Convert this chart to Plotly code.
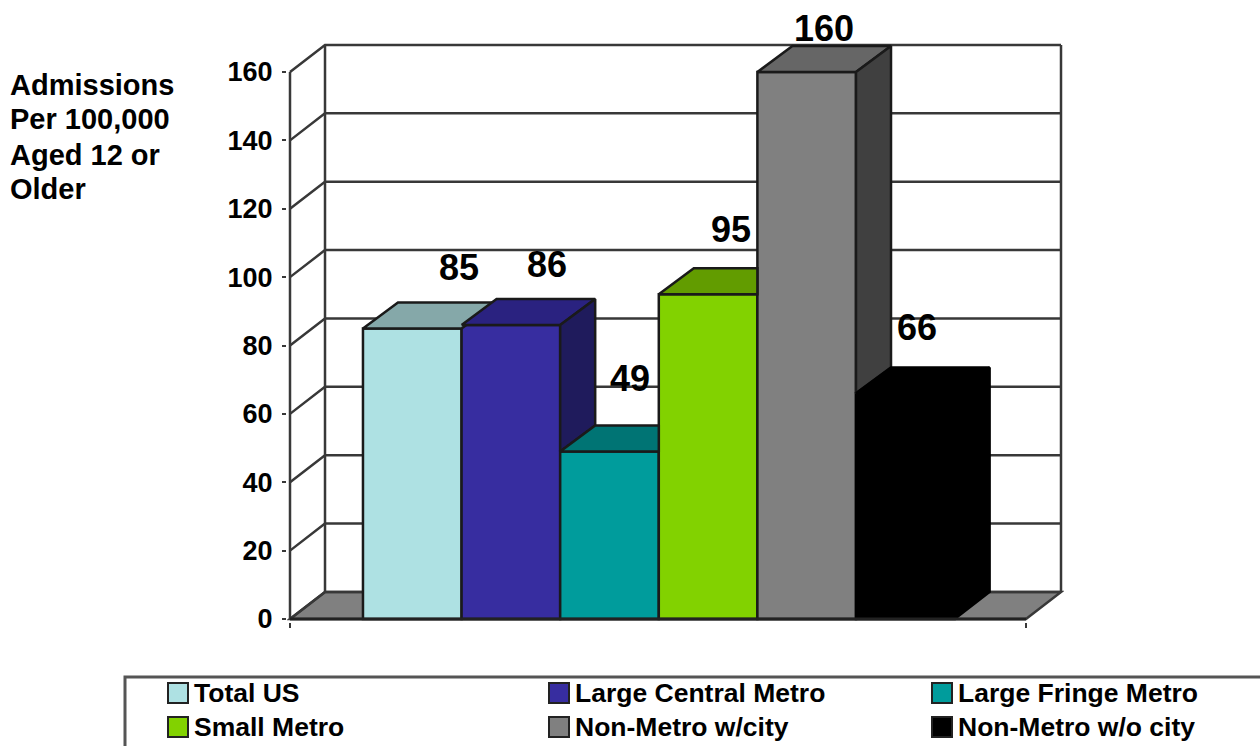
import plotly.graph_objects as go

categories = ["Total US", "Large Central Metro", "Large Fringe Metro",
              "Small Metro", "Non-Metro w/city", "Non-Metro w/o city"]
values = [85, 86, 49, 95, 160, 66]
y_ticks = [0, 20, 40, 60, 80, 100, 120, 140, 160]
y_title_lines = ["Admissions", "Per 100,000", "Aged 12 or", "Older"]

front_colors = ["#AEE1E3", "#372DA0", "#009C9C", "#82D200", "#808080", "#000000"]
top_colors = ["#85A8A9", "#2A2280", "#007474", "#629C00", "#666666", "#000000"]
side_colors = ["#6F8F90", "#1F1B5C", "#005858", "#4A7600", "#404040", "#000000"]

# Pseudo-3D geometry, in data units
DX, DY = 0.355, 7.9       # wall/floor depth
BDY = 7.6                 # bar depth
X_L, X_R = -0.24, 7.224   # front floor edge
Y_MAX = 160
LINE = "#383838"
EDGE = "#1A1A1A"
FONT = "Liberation Sans"

# Page geometry (plot area has a small pad so the outer wall lines are not clipped)
PAD_X, PAD_Y = 3 / 98.5, 3 / 3.42
PL, PR, PT, PB = 287, 1064, 42, 622
def px(x): return (x - PL) / (PR - PL)
def py(y): return (PB - y) / (PB - PT)

fig = go.Figure()

# Bar fronts
for i, (c, v) in enumerate(zip(categories, values)):
    fig.add_trace(go.Bar(x=[i + 1], y=[v], width=1, name=c, showlegend=False,
                         marker=dict(color=front_colors[i],
                                     line=dict(color="#000000" if i == 5 else EDGE, width=2.5))))

shapes = []

# Floor (beneath the bars)
shapes.append(dict(type="path", xref="x", yref="y", layer="below",
                   path=f"M {X_L},0 L {X_L + DX},{DY} L {X_R + DX},{DY} L {X_R},0 Z",
                   fillcolor="#808080", line=dict(color=LINE, width=2.5)))

# Walls and gridlines (beneath the bars)
for t in y_ticks:
    shapes.append(dict(type="path", xref="x", yref="y", layer="below",
                       path=f"M {X_L},{t} L {X_L + DX},{t + DY} L {X_R + DX},{t + DY}",
                       line=dict(color=LINE, width=2.5)))
for x0, off in [(X_L, 0), (X_L + DX, DY), (X_R + DX, DY)]:
    shapes.append(dict(type="line", xref="x", yref="y", layer="below",
                       x0=x0, x1=x0, y0=off, y1=Y_MAX + off,
                       line=dict(color=LINE, width=2.5)))

# Bar tops and sides
for i, v in enumerate(values):
    x0, x1 = i + 0.5, i + 1.5
    nxt = values[i + 1] if i + 1 < len(values) else 0
    edge = "#000000" if i == 5 else EDGE
    top_right = x1 if nxt >= v + BDY else x1 + DX
    tx = [x0, x0 + DX, top_right, x1, x0]
    ty = [v, v + BDY, v + BDY, v, v]
    fig.add_trace(go.Scatter(x=tx, y=ty, mode="lines", fill="toself", fillcolor=top_colors[i],
                             showlegend=False, line=dict(color=edge, width=2.5),
                             hoverinfo="skip", cliponaxis=False))
    if nxt < v:
        sx = [x1, x1 + DX, x1 + DX, x1, x1]
        sy = [v, v + BDY, nxt + BDY if nxt else DY, nxt, v]
        fig.add_trace(go.Scatter(x=sx, y=sy, mode="lines", fill="toself", fillcolor=side_colors[i],
                                 showlegend=False, line=dict(color=edge, width=2.5),
                                 hoverinfo="skip", cliponaxis=False))

# Front floor edge
fig.add_trace(go.Scatter(x=[X_L, X_R], y=[0, 0], mode="lines", showlegend=False,
                         line=dict(color="#222222", width=3), hoverinfo="skip", cliponaxis=False))

# Value labels
label_dx = [47, 36, 21, 23, 17, 12]
label_dy = [61, 60, 73, 65, 44, 66]
for i, v in enumerate(values):
    fig.add_annotation(x=i + 1, y=v, xref="x", yref="y", text=str(v), showarrow=False,
                       xshift=label_dx[i], yshift=label_dy[i], xanchor="center", yanchor="middle",
                       font=dict(family=FONT, size=36, weight=700, color="black"))

# Left title
title_y = [85, 119, 155, 189]
for line, yy in zip(y_title_lines, title_y):
    fig.add_annotation(x=px(10), y=py(yy), xref="paper", yref="paper", text=line, showarrow=False,
                       xanchor="left", yanchor="middle", align="left", xshift=-2,
                       font=dict(family=FONT, size=29, weight=700, color="black"))

# Legend box
shapes.append(dict(type="path", xref="paper", yref="paper",
                   path=f"M {px(1300)},{py(677)} L {px(125)},{py(677)} L {px(125)},{py(770)}",
                   line=dict(color="#555555", width=3)))
col_x = [168, 549, 932]
row_y = [693, 727]
for i, c in enumerate(categories):
    cx = col_x[i % 3]
    cy = row_y[i // 3]
    shapes.append(dict(type="rect", xref="paper", yref="paper",
                       x0=px(cx), x1=px(cx + 20), y0=py(cy - 10), y1=py(cy + 10),
                       fillcolor=front_colors[i], line=dict(color="#222222", width=2)))
    fig.add_annotation(x=px(cx + 24), y=py(cy), xref="paper", yref="paper", text=c, showarrow=False,
                       xanchor="left", yanchor="middle",
                       font=dict(family=FONT, size=26.5, weight=700, color="black"))

fig.update_layout(
    width=1260, height=746, autosize=False,
    margin=dict(l=PL, r=1260 - PR, t=PT, b=746 - PB),
    paper_bgcolor="white", plot_bgcolor="rgba(0,0,0,0)",
    showlegend=False, barmode="overlay", shapes=shapes,
    xaxis=dict(range=[X_L - PAD_X, X_R + DX + PAD_X], tickmode="array", tickvals=[X_L, X_R],
               ticks="outside", ticklen=5, tickwidth=2, tickcolor=LINE, showticklabels=False,
               showgrid=False, zeroline=False, showline=False),
    yaxis=dict(range=[-PAD_Y, Y_MAX + DY + PAD_Y], tickmode="array", tickvals=y_ticks, ticks="outside",
               ticklen=4, tickwidth=2, tickcolor=LINE, showgrid=False, zeroline=False,
               showline=False, ticklabelstandoff=4,
               tickfont=dict(family=FONT, size=27, weight=700, color="black")),
)

fig.write_html("out.html", config={"displayModeBar": False},
               post_script="document.body.style.margin='0';document.body.style.overflow='hidden';")
